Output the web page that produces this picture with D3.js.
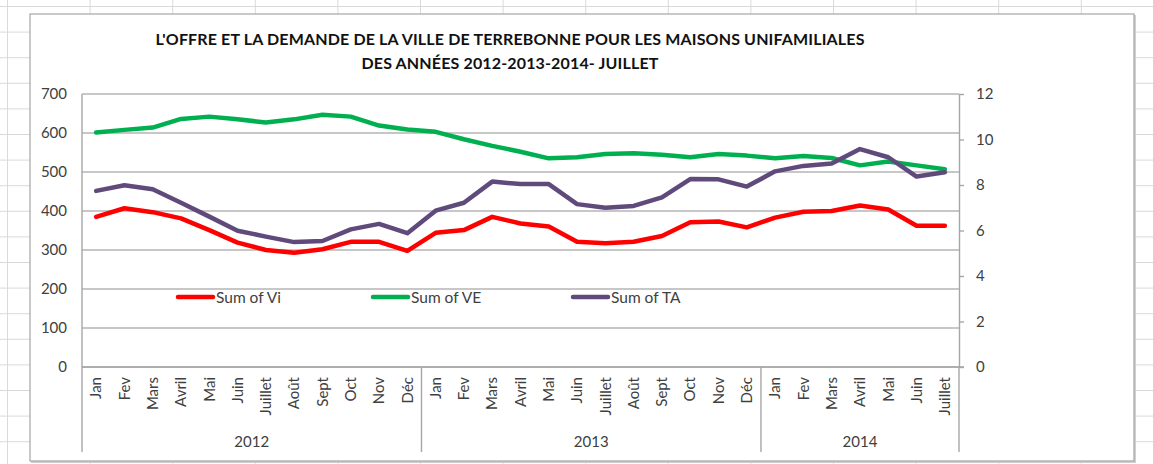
<!DOCTYPE html>
<html>
<head>
<meta charset="utf-8">
<script src="https://cdn.jsdelivr.net/npm/d3@7"></script>
<style>
  html, body { margin: 0; padding: 0; background: #fff; }
  svg { display: block; font-family: Lato, 'Open Sans', sans-serif; }
</style>
</head>
<body>
<div id="chart"></div>
<script>
// categories
const years = ['2012', '2013', '2014']
const monthsByYear = [
  ['Jan', 'Fev', 'Mars', 'Avril', 'Mai', 'Juin', 'Juillet', 'Août', 'Sept', 'Oct', 'Nov', 'Déc'],
  ['Jan', 'Fev', 'Mars', 'Avril', 'Mai', 'Juin', 'Juillet', 'Août', 'Sept', 'Oct', 'Nov', 'Déc'],
  ['Jan', 'Fev', 'Mars', 'Avril', 'Mai', 'Juin', 'Juillet']
]

// series values (Vi, VE on left axis, TA on right axis)
const vi = [385, 407, 397, 381, 351, 319, 300, 293, 302, 321, 321, 298,
  344, 351, 385, 368, 360, 321, 317, 321, 336, 371, 373, 358,
  383, 398, 400, 414, 404, 362, 362]
const ve = [601, 608, 614, 636, 642, 635, 627, 635, 647, 642, 619, 609,
  603, 584, 567, 552, 535, 538, 546, 548, 544, 538, 546, 542,
  535, 541, 536, 517, 527, 517, 507]
const ta = [7.74, 7.99, 7.81, 7.22, 6.61, 5.99, 5.73, 5.49, 5.54, 6.05, 6.29, 5.88,
  6.87, 7.22, 8.15, 8.04, 8.04, 7.16, 7.0, 7.08, 7.46, 8.26, 8.25, 7.93,
  8.6, 8.84, 8.95, 9.58, 9.22, 8.37, 8.56]

const leftTicks = [0, 100, 200, 300, 400, 500, 600, 700]
const rightTicks = [0, 2, 4, 6, 8, 10, 12]
const seriesNames = ['Sum of Vi', 'Sum of VE', 'Sum of TA']

const W = 1153
const H = 464

const svg = d3.select('#chart').append('svg')
  .attr('width', W)
  .attr('height', H)

// spreadsheet cells behind the chart
const cells = svg.append('g').attr('stroke', '#dadada').attr('stroke-width', 1)
cells.selectAll('line.col')
  .data(d3.range(15))
  .enter().append('line')
  .attr('x1', i => 7.5 + i * 82.6).attr('x2', i => 7.5 + i * 82.6)
  .attr('y1', 0).attr('y2', H)
cells.selectAll('line.row')
  .data(d3.range(19))
  .enter().append('line')
  .attr('x1', 0).attr('x2', W)
  .attr('y1', i => 6.5 + i * 25.6).attr('y2', i => 6.5 + i * 25.6)

// chart box
svg.append('rect')
  .attr('x', 31).attr('y', 15).attr('width', 1105).attr('height', 448)
  .attr('fill', '#d0d0d0')
svg.append('rect')
  .attr('x', 30).attr('y', 14).attr('width', 1104).attr('height', 447)
  .attr('fill', '#fff')
  .attr('stroke', '#a6a6a6')
  .attr('stroke-width', 1.2)

// title
const title = svg.append('g')
  .attr('font-weight', 'bold')
  .attr('font-size', '16px')
  .attr('letter-spacing', '0.15px')
  .attr('fill', '#111')
  .attr('text-anchor', 'middle')
  .style('white-space', 'pre')
title.append('text')
  .attr('x', 510).attr('y', 45)
  .text("L'OFFRE  ET LA DEMANDE DE LA VILLE DE TERREBONNE POUR LES MAISONS UNIFAMILIALES")
title.append('text')
  .attr('x', 510).attr('y', 69)
  .text('DES ANNÉES 2012-2013-2014-  JUILLET')

const margin = { top: 94, right: 194, bottom: 97, left: 82 }
const width = W - margin.left - margin.right
const height = H - margin.top - margin.bottom

const g = svg.append('g')
  .attr('transform', `translate(${margin.left}, ${margin.top})`)

const categories = []
monthsByYear.forEach((ms, yi) => ms.forEach(m => categories.push(years[yi] + '-' + m)))

const xScale = d3.scalePoint()
  .domain(categories)
  .range([0, width])
  .padding(0.5)
const step = xScale.step()

const yLeft = d3.scaleLinear().domain([0, 700]).range([height, 0])
const yRight = d3.scaleLinear().domain([0, 12]).range([height, 0])

// gridlines
g.append('g')
  .selectAll('line')
  .data(leftTicks)
  .enter().append('line')
  .attr('x1', 0).attr('x2', width)
  .attr('y1', d => yLeft(d)).attr('y2', d => yLeft(d))
  .attr('stroke', '#b4b4b4')
  .attr('stroke-width', 1.4)

// left axis
const leftAxis = g.append('g')
  .call(d3.axisLeft(yLeft).tickValues(leftTicks).tickSize(0).tickPadding(15))
leftAxis.select('.domain').remove()
leftAxis.selectAll('text')
  .attr('font-size', '15px')
  .attr('font-family', 'Lato, sans-serif')
  .attr('fill', '#404040')

// right axis
const rightAxis = g.append('g')
  .attr('transform', `translate(${width}, 0)`)
  .call(d3.axisRight(yRight).tickValues(rightTicks).tickSize(5).tickSizeOuter(0).tickPadding(12))
rightAxis.select('.domain').attr('stroke', '#a6a6a6').attr('stroke-width', 1.4)
rightAxis.selectAll('.tick line').attr('stroke', '#a6a6a6').attr('stroke-width', 1.4)
rightAxis.selectAll('text')
  .attr('font-size', '15px')
  .attr('font-family', 'Lato, sans-serif')
  .attr('fill', '#404040')

// category axis (two levels)
const axisBottomY = height
const groupBottom = height + 85
g.append('line')
  .attr('x1', 0).attr('x2', width + 5)
  .attr('y1', axisBottomY).attr('y2', axisBottomY)
  .attr('stroke', '#a6a6a6').attr('stroke-width', 1.4)

let idx = 0
const groups = monthsByYear.map((ms, yi) => {
  const first = categories[idx]
  const last = categories[idx + ms.length - 1]
  idx += ms.length
  return { year: years[yi], x0: xScale(first) - step / 2, x1: xScale(last) + step / 2 }
})

g.append('g')
  .selectAll('line')
  .data([0].concat(groups.map(d => d.x1)))
  .enter().append('line')
  .attr('x1', d => d).attr('x2', d => d)
  .attr('y1', d => d === 0 ? 0 : axisBottomY)
  .attr('y2', groupBottom)
  .attr('stroke', '#a6a6a6').attr('stroke-width', 1.4)

g.append('g')
  .selectAll('text')
  .data(categories)
  .enter().append('text')
  .attr('transform', d => `translate(${xScale(d)}, ${axisBottomY + 10}) rotate(-90)`)
  .attr('dy', '0.35em')
  .attr('text-anchor', 'end')
  .attr('font-size', '15px')
  .attr('fill', '#404040')
  .text(d => d.split('-')[1])

g.append('g')
  .selectAll('text')
  .data(groups)
  .enter().append('text')
  .attr('x', d => (d.x0 + d.x1) / 2)
  .attr('y', height + 80)
  .attr('text-anchor', 'middle')
  .attr('font-size', '15px')
  .attr('fill', '#404040')
  .text(d => d.year)

// lines
const colors = ['#ff0000', '#00b050', '#604a7b']
const lineLeft = d3.line().x((d, i) => xScale(categories[i])).y(d => yLeft(d))
const lineRight = d3.line().x((d, i) => xScale(categories[i])).y(d => yRight(d))

const series = [
  { values: vi, line: lineLeft, color: colors[0] },
  { values: ve, line: lineLeft, color: colors[1] },
  { values: ta, line: lineRight, color: colors[2] }
]

g.append('g')
  .selectAll('path')
  .data(series)
  .enter().append('path')
  .attr('d', d => d.line(d.values))
  .attr('fill', 'none')
  .attr('stroke', d => d.color)
  .attr('stroke-width', 4.5)
  .attr('stroke-linejoin', 'round')
  .attr('stroke-linecap', 'round')

// legend
const legendX = [178, 373, 573]
const legend = svg.append('g')
  .selectAll('g')
  .data(seriesNames)
  .enter().append('g')
  .attr('transform', (d, i) => `translate(${legendX[i]}, 297)`)
legend.append('line')
  .attr('x1', 0).attr('x2', 35)
  .attr('stroke', (d, i) => colors[i])
  .attr('stroke-width', 4.5)
  .attr('stroke-linecap', 'round')
legend.append('text')
  .attr('x', 38)
  .attr('dy', '0.36em')
  .attr('font-size', '15.5px')
  .attr('fill', '#404040')
  .text(d => d)
</script>
</body>
</html>
